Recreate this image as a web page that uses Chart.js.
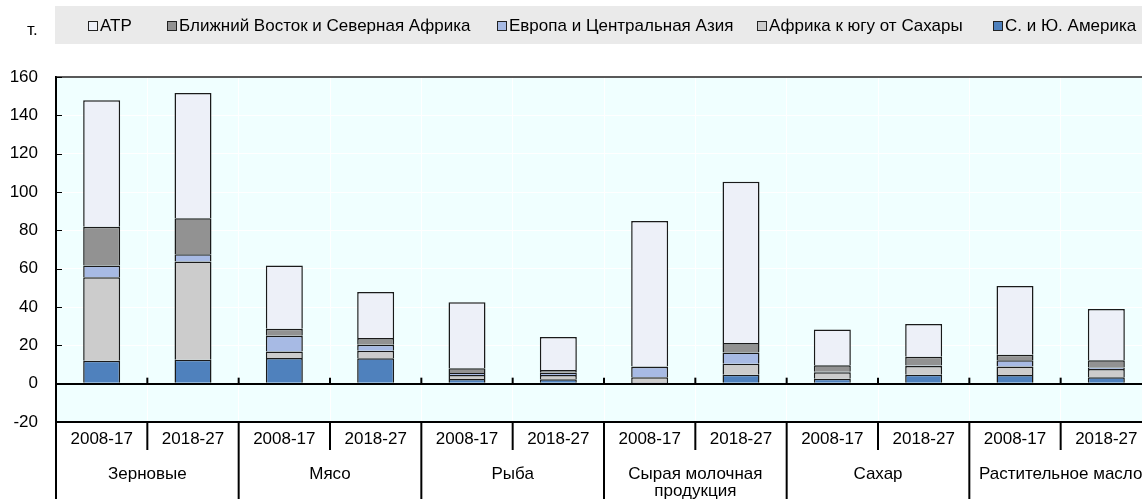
<!DOCTYPE html>
<html lang="ru">
<head>
<meta charset="utf-8">
<script src="https://cdn.jsdelivr.net/npm/chart.js@4/dist/chart.umd.min.js"></script>
<style>
  html, body { margin: 0; padding: 0; overflow: hidden; background: #fff; }
  #wrap { width: 1160px; height: 499px; }
</style>
</head>
<body>
<div id="wrap"><canvas id="grafico"></canvas></div>
<script>
const FUENTE = "'Liberation Sans', Arial, sans-serif";

// categorias
const periodos = ["2008-17", "2018-27", "2008-17", "2018-27", "2008-17", "2018-27",
  "2008-17", "2018-27", "2008-17", "2018-27", "2008-17", "2018-27"];
const grupos = ["Зерновые", "Мясо", "Рыба", ["Сырая молочная", "продукция"], "Сахар", "Растительное масло"];

// series, de abajo hacia arriba
const america = [12, 12.5, 13.4, 13.2, 2.4, 2.3, 0.3, 4.7, 2.6, 4.7, 4.5, 3.3];
const africa = [43.5, 51.2, 3.4, 4.0, 2.1, 2.2, 3.0, 5.7, 3.3, 4.5, 4.5, 4.3];
const europa = [6.1, 3.8, 8.2, 3.1, 1.1, 1.2, 5.5, 5.9, 0.3, 0.3, 3.2, 0.9];
const oriente = [20.3, 18.8, 3.6, 3.5, 2.4, 1.4, 0.3, 4.9, 3.4, 4.6, 2.9, 3.7];
const atr = [66, 65.4, 33, 24, 34.5, 17.2, 75.8, 84.2, 18.6, 17, 35.9, 26.7];

const ticksY = [-20, 0, 20, 40, 60, 80, 100, 120, 140, 160];
const unidad = "т.";

function serie(label, data, color) {
  return {
    label, data,
    backgroundColor: color,
    borderColor: "#1A1A1A",
    borderWidth: 1.5,
    barPercentage: 0.405,
    categoryPercentage: 1,
  };
}

const datasets = [
  serie("С. и Ю. Америка", america, "#4F81BD"),
  serie("Африка к югу от Сахары", africa, "#CCCCCC"),
  serie("Европа и Центральная Азия", europa, "#A7BAE4"),
  serie("Ближний Восток и Северная Африка", oriente, "#929292"),
  serie("АТР", atr, "#EDF0F8"),
];

// fondo, leyenda, separadores y etiquetas de grupo
const decorado = {
  id: "decorado",
  beforeDraw(chart) {
    const { ctx, chartArea: a } = chart;
    ctx.save();
    ctx.fillStyle = "#EAEAEA";
    ctx.fillRect(55, 6, chart.width - 55, 38);
    ctx.fillStyle = "#F0FFFF";
    ctx.fillRect(a.left, a.top, a.right - a.left, a.bottom - a.top);
    ctx.restore();
  },
  afterDraw(chart) {
    const { ctx, chartArea: a, scales } = chart;
    const x = scales.x, y = scales.y;
    ctx.save();

    // unidad
    ctx.fillStyle = "#000";
    ctx.font = "17px " + FUENTE;
    ctx.textAlign = "left";
    ctx.textBaseline = "alphabetic";
    ctx.fillText(unidad, 27, 35);

    // leyenda (orden inverso)
    const posLeyenda = [88, 167, 497, 757, 993];
    const items = chart.data.datasets.slice().reverse();
    ctx.textBaseline = "middle";
    items.forEach((d, i) => {
      const bx = posLeyenda[i];
      ctx.fillStyle = d.backgroundColor;
      ctx.fillRect(bx, 21, 10, 10);
      ctx.strokeStyle = "#222";
      ctx.lineWidth = 1;
      ctx.strokeRect(bx + 0.5, 21.5, 9, 9);
      ctx.fillStyle = "#000";
      ctx.fillText(d.label, bx + 12, 26);
    });

    // borde superior
    ctx.strokeStyle = "#222";
    ctx.lineWidth = 1.5;
    ctx.beginPath();
    ctx.moveTo(a.left, a.top);
    ctx.lineTo(a.right, a.top);
    ctx.stroke();

    // marcas en el eje Y
    ctx.strokeStyle = "#000";
    ctx.lineWidth = 1;
    ticksY.forEach(v => {
      const py = Math.round(y.getPixelForValue(v)) + 0.5;
      ctx.beginPath();
      ctx.moveTo(a.left, py);
      ctx.lineTo(a.left + 6, py);
      ctx.stroke();
    });

    // marcas sobre la linea de cero
    const cero = y.getPixelForValue(0);
    const paso = x.getPixelForValue(1) - x.getPixelForValue(0);
    ctx.lineWidth = 2;
    for (let i = 1; i < periodos.length; i++) {
      const px = x.getPixelForValue(i) - paso / 2;
      ctx.beginPath();
      ctx.moveTo(px, cero);
      ctx.lineTo(px, cero - 6);
      ctx.stroke();
    }

    // separadores bajo el eje
    for (let i = 0; i <= periodos.length; i++) {
      const px = x.getPixelForValue(0) - paso / 2 + i * paso;
      ctx.beginPath();
      ctx.moveTo(px, a.bottom);
      ctx.lineTo(px, i % 2 === 0 ? chart.height : a.bottom + 28);
      ctx.stroke();
    }

    // etiquetas de grupo
    ctx.fillStyle = "#000";
    ctx.font = "17px " + FUENTE;
    ctx.textAlign = "center";
    ctx.textBaseline = "middle";
    grupos.forEach((g, i) => {
      const cx = (x.getPixelForValue(2 * i) + x.getPixelForValue(2 * i + 1)) / 2;
      const lineas = Array.isArray(g) ? g : [g];
      lineas.forEach((t, j) => ctx.fillText(t, cx, 474 + j * 17));
    });

    ctx.restore();
  },
};

new Chart(document.getElementById("grafico"), {
  type: "bar",
  data: { labels: periodos, datasets },
  options: {
    responsive: true,
    maintainAspectRatio: false,
    animation: false,
    layout: { padding: { top: 77, right: 8, left: 0, bottom: 0 } },
    plugins: { legend: { display: false }, tooltip: { enabled: false } },
    scales: {
      x: {
        stacked: true,
        afterFit: s => { s.height = 77; },
        grid: { offset: true, color: "#FFFFFF", lineWidth: 1, drawTicks: false },
        border: { display: true, color: "#000", width: 2 },
        ticks: { color: "#000", font: { family: FUENTE, size: 17 }, padding: 7, maxRotation: 0, autoSkip: false },
      },
      y: {
        stacked: true,
        min: -20,
        max: 160,
        afterFit: s => { s.width = 56; },
        afterBuildTicks: s => { s.ticks = ticksY.map(v => ({ value: v })); },
        grid: {
          color: c => (c.tick && c.tick.value === 0 ? "#000" : "#FFFFFF"),
          lineWidth: c => (c.tick && c.tick.value === 0 ? 2 : 1),
          drawTicks: false,
        },
        border: { display: true, color: "#000", width: 2 },
        ticks: { color: "#000", font: { family: FUENTE, size: 17 }, padding: 18 },
      },
    },
  },
  plugins: [decorado],
});
</script>
</body>
</html>
